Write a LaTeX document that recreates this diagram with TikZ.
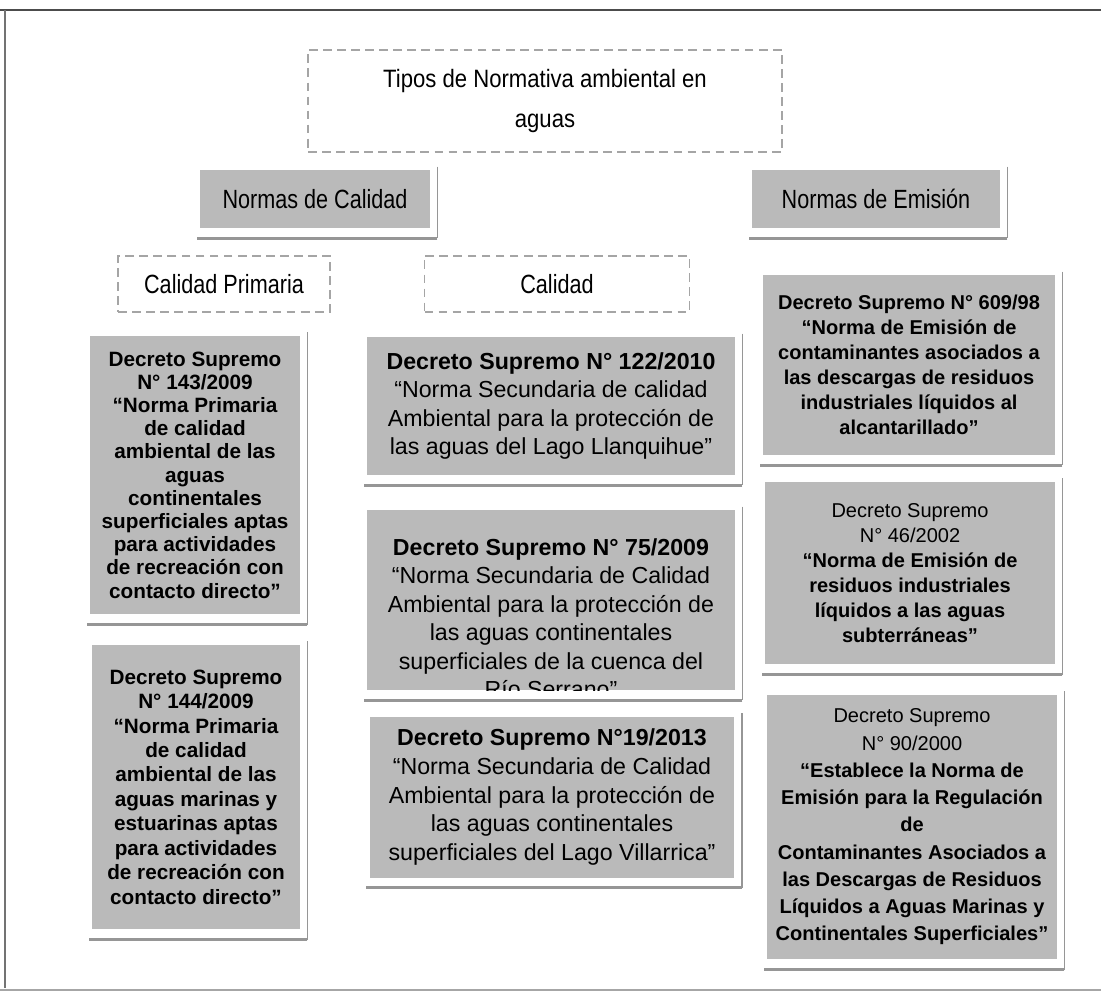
\documentclass[tikz,border=0pt]{standalone}
\usepackage{fontspec}
\setmainfont{Liberation Sans}
\newfontfamily\narrowfont[FakeStretch=0.82]{Liberation Sans}
\newfontfamily\titlefont[FakeStretch=0.88]{Liberation Sans}
\definecolor{boxgray}{RGB}{186,186,186}
\definecolor{linegray}{RGB}{150,150,150}
\definecolor{dashgray}{RGB}{165,165,165}
\newcommand{\headfont}{\narrowfont\fontsize{15}{17}\selectfont}
\newcommand{\sidefont}{\fontsize{11.8}{13.2}\selectfont\bfseries}
\newcommand{\rightfont}{\fontsize{11.4}{14.2}\selectfont}
\newcommand{\midfont}{\fontsize{13.2}{16.2}\selectfont}
\begin{document}
\begin{tikzpicture}[x=0.02cm,y=-0.02cm,
    dashbox/.style={draw=dashgray,line width=0.8pt,dash pattern=on 5pt off 3pt,inner sep=0pt,align=center},
    greybox/.style={fill=boxgray,inner sep=0pt,align=center},
    shadowside/.style={draw=linegray,line width=0.8pt},
    shadowbase/.style={draw=linegray,line width=1.7pt}]
  \useasboundingbox (0,0) rectangle (1101,994);
  \draw[line width=1.6pt,black!70] (0,10) -- (1101,10);
  \draw[line width=0.9pt,black!55] (5,10) -- (5,988);
  \draw[line width=0.6pt,black!35] (0,990) -- (1101,990);
  \node[dashbox,minimum width=9.48cm,minimum height=2.04cm,
    font=\titlefont\fontsize{14.3}{23.3}\selectfont] (tipos) at (545,101)
    {Tipos de Normativa ambiental en\\aguas};
  \node[greybox,minimum width=4.6cm,minimum height=1.16cm,font=\headfont] (calidad) at (315,199) {Normas de Calidad};
  \node[greybox,minimum width=4.96cm,minimum height=1.16cm,font=\headfont] (emision) at (876,199) {Normas de Emisión};
  \node[dashbox,minimum width=4.24cm,minimum height=1.12cm,font=\headfont] (primaria) at (224,284) {Calidad Primaria};
  \node[dashbox,minimum width=5.3cm,minimum height=1.12cm,font=\headfont] (secundaria) at (557,284) {Calidad};
  \node[greybox,minimum width=4.2cm,minimum height=5.58cm,font=\sidefont] (ds143) at (195,475)
    {Decreto Supremo\\N° 143/2009\\“Norma Primaria\\de calidad\\ambiental de las\\aguas\\continentales\\superficiales aptas\\para actividades\\de recreación con\\contacto directo”};
  \node[greybox,minimum width=4.16cm,minimum height=5.7cm,font=\sidefont\fontsize{11.8}{13.9}\selectfont] (ds144) at (196,787)
    {Decreto Supremo\\N° 144/2009\\“Norma Primaria\\de calidad\\ambiental de las\\aguas marinas y\\estuarinas aptas\\para actividades\\de recreación con\\contacto directo”};
  \node[greybox,minimum width=7.36cm,minimum height=2.76cm,font=\midfont] (ds122) at (551,406)
    {\textbf{Decreto Supremo N° 122/2010}\\“Norma Secundaria de calidad\\Ambiental para la protección de\\las aguas del Lago Llanquihue”};
  \node[greybox,minimum width=7.36cm,minimum height=3.6cm] (ds75) at (551,600) {};
  \begin{scope}
    \clip (ds75.south west) rectangle (ds75.north east);
    \node[anchor=north,inner sep=0pt,align=center,font=\midfont] (ds75txt) at (551,538)
      {\textbf{Decreto Supremo N° 75/2009}\\“Norma Secundaria de Calidad\\Ambiental para la protección de\\las aguas continentales\\superficiales de la cuenca del\\Río Serrano”};
  \end{scope}
  \node[greybox,minimum width=7.3cm,minimum height=3.22cm,font=\midfont\fontsize{13.2}{16.4}\selectfont] (ds19) at (552,797)
    {\textbf{Decreto Supremo N°19/2013}\\“Norma Secundaria de Calidad\\Ambiental para la protección de\\las aguas continentales\\superficiales del Lago Villarrica”};
  \node[greybox,minimum width=5.84cm,minimum height=3.6cm,font=\rightfont\bfseries] (ds609) at (909,365)
    {Decreto Supremo N° 609/98\\“Norma de Emisión de\\contaminantes asociados a\\las descargas de residuos\\industriales líquidos al\\alcantarillado”};
  \node[greybox,minimum width=5.8cm,minimum height=3.66cm,font=\rightfont] (ds46) at (910,573)
    {Decreto Supremo\\N° 46/2002\\\textbf{“Norma de Emisión de}\\\textbf{residuos industriales}\\\textbf{líquidos a las aguas}\\\textbf{subterráneas”}};
  \node[greybox,minimum width=5.8cm,minimum height=5.3cm,font=\rightfont\fontsize{11.4}{15.5}\selectfont] (ds90) at (912,827)
    {Decreto Supremo\\N° 90/2000\\\textbf{“Establece la Norma de}\\\textbf{Emisión para la Regulación}\\\textbf{de}\\\textbf{Contaminantes Asociados a}\\\textbf{las Descargas de Residuos}\\\textbf{Líquidos a Aguas Marinas y}\\\textbf{Continentales Superficiales”}};
  \foreach \b in {calidad,emision,ds143,ds144,ds122,ds75,ds19,ds609,ds46,ds90} {
    \draw[shadowside] ([xshift=0.14cm,yshift=0.06cm]\b.north east) -- ([xshift=0.14cm,yshift=-0.2cm]\b.south east);
    \draw[shadowbase] ([xshift=0.14cm,yshift=-0.2cm]\b.south east) -- ([xshift=-0.06cm,yshift=-0.2cm]\b.south west);
  }
\end{tikzpicture}
\end{document}
